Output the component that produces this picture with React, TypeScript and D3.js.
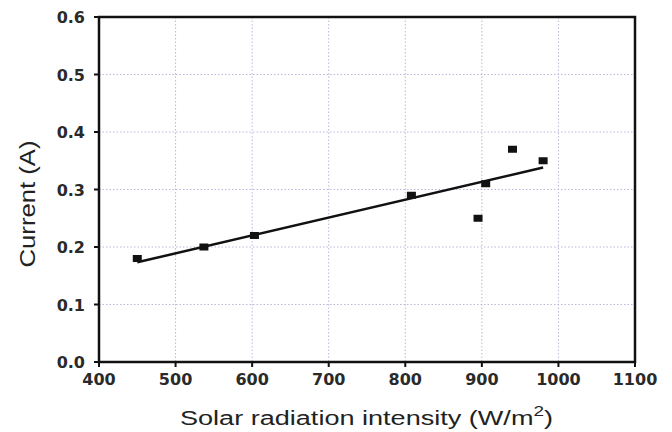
import React from "react";
import * as d3 from "d3";

const radiation = [450, 537, 603, 808, 895, 905, 940, 980];
const current = [0.18, 0.2, 0.22, 0.29, 0.25, 0.31, 0.37, 0.35];
const xTicks = [400, 500, 600, 700, 800, 900, 1000, 1100];
const yTicks = [0.0, 0.1, 0.2, 0.3, 0.4, 0.5, 0.6];

export default function App() {
  const W = 672, H = 432;
  const x = d3.scaleLinear().domain([400, 1100]).range([99, 635]);
  const y = d3.scaleLinear().domain([0, 0.6]).range([362, 17]);
  const mx = d3.mean(radiation)!;
  const my = d3.mean(current)!;
  const slope =
    d3.sum(radiation.map((v, i) => (v - mx) * (current[i] - my))) /
    d3.sum(radiation.map((v) => (v - mx) * (v - mx)));
  const icpt = my - slope * mx;
  const [x0, x1] = d3.extent(radiation) as [number, number];
  const fit = [x0, x1].map((v) => [v, icpt + slope * v] as [number, number]);
  const line = d3.line<[number, number]>().x((d) => x(d[0])).y((d) => y(d[1]));
  const font = "Arial, 'Liberation Sans', sans-serif";
  const tickFont = "'DejaVu Sans', sans-serif";
  const gridColor = "#b8b8d8";
  return (
    <svg width={W} height={H} style={{ position: "absolute", left: 0, top: 0, background: "#fff" }}>
      <rect width={W} height={H} fill="#fff" />
      {xTicks.slice(1, -1).map((t) => (
        <line key={"gx" + t} x1={x(t)} x2={x(t)} y1={y(0.6)} y2={y(0)} stroke={gridColor} strokeWidth={1} strokeDasharray="1.5,2" />
      ))}
      {yTicks.slice(1, -1).map((t) => (
        <line key={"gy" + t} x1={x(400)} x2={x(1100)} y1={y(t)} y2={y(t)} stroke={gridColor} strokeWidth={1} strokeDasharray="1.5,2" />
      ))}
      <rect x={x(400)} y={y(0.6)} width={x(1100) - x(400)} height={y(0) - y(0.6)} fill="none" stroke="#111" strokeWidth={2.5} />
      {xTicks.map((t) => (
        <g key={"xt" + t}>
          <line x1={x(t)} x2={x(t)} y1={y(0)} y2={y(0) + 5} stroke="#111" strokeWidth={2} />
          <text x={x(t)} y={y(0) + 23} textAnchor="middle" fontFamily={tickFont} fontSize={16} fontWeight="bold" fill="#2a2a2a">{t}</text>
        </g>
      ))}
      {yTicks.map((t) => (
        <g key={"yt" + t}>
          <line x1={x(400) - 5} x2={x(400)} y1={y(t)} y2={y(t)} stroke="#111" strokeWidth={2} />
          <text x={x(400) - 14} y={y(t) + 6} textAnchor="end" fontFamily={tickFont} fontSize={16} fontWeight="bold" fill="#2a2a2a">{t.toFixed(1)}</text>
        </g>
      ))}
      <path d={line(fit)!} fill="none" stroke="#111" strokeWidth={2.5} />
      {radiation.map((v, i) => (
        <rect key={"p" + i} x={x(v) - 4.5} y={y(current[i]) - 3.5} width={9} height={7} fill="#111" />
      ))}
      <text x={180} y={425} fontFamily={font} fontSize={20} fill="#222" textLength={373} lengthAdjust="spacingAndGlyphs">
        Solar radiation intensity (W/m<tspan dy={-9} fontSize={14}>2</tspan><tspan dy={9}>)</tspan>
      </text>
      <text transform="translate(35,204) rotate(-90)" textAnchor="middle" fontFamily={font} fontSize={22} fill="#222" textLength={127} lengthAdjust="spacingAndGlyphs">Current (A)</text>
    </svg>
  );
}
